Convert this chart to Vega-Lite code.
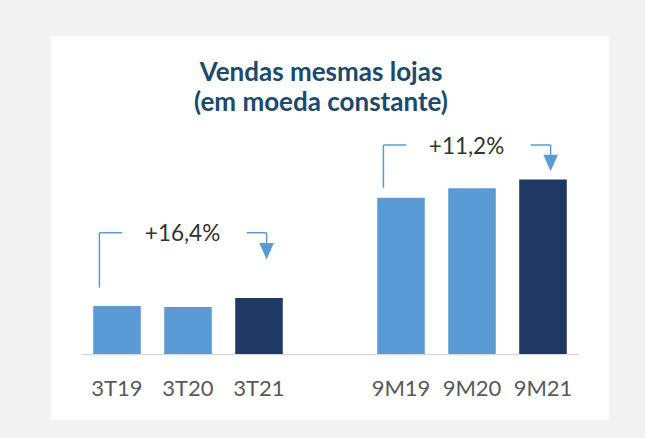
{
  "$schema": "https://vega.github.io/schema/vega-lite/v6.json",
  "width": 558,
  "height": 384,
  "autosize": {"type": "none"},
  "padding": {"left": 51, "top": 36, "right": 36, "bottom": 18},
  "background": "#f2f2f2",
  "config": {"view": {"fill": "white", "stroke": null}},
  "title": {
    "text": ["Vendas mesmas lojas", "(em moeda constante)"],
    "font": "Lato",
    "fontSize": 26,
    "fontWeight": "bold",
    "color": "#1B4A6E",
    "lineHeight": 30,
    "anchor": "middle",
    "baseline": "top",
    "dx": -9,
    "offset": -80
  },
  "datasets": {
    "vendas": [
      {"periodo": "3T19", "valor": 48, "ano": "2019"},
      {"periodo": "3T20", "valor": 47, "ano": "2020"},
      {"periodo": "3T21", "valor": 56, "ano": "2021"},
      {"periodo": "9M19", "valor": 156.3, "ano": "2019"},
      {"periodo": "9M20", "valor": 165.7, "ano": "2020"},
      {"periodo": "9M21", "valor": 174.5, "ano": "2021"}
    ],
    "notas": [
      {"de": "3T19", "meio": "3T20", "para": "3T21", "rotulo": "+16,4%", "nivel": 121.3, "inicio": 66.3, "seta": 102.7},
      {"de": "9M19", "meio": "9M20", "para": "9M21", "rotulo": "+11,2%", "nivel": 209, "inicio": 166.3, "seta": 191}
    ]
  },
  "layer": [
    {
      "data": {"name": "vendas"},
      "mark": {"type": "bar"},
      "encoding": {
        "x": {
          "field": "periodo",
          "type": "nominal",
          "sort": null,
          "scale": {
            "domain": ["3T19", "3T20", "3T21", " ", "9M19", "9M20", "9M21"],
            "range": [30.5, 527.5],
            "paddingInner": 0.33,
            "paddingOuter": 0.165
          },
          "axis": {
            "title": null,
            "labelAngle": 0,
            "labelFont": "Lato",
            "labelFontSize": 22,
            "labelColor": "#595959",
            "labelPadding": 24,
            "ticks": false,
            "grid": false,
            "domainColor": "#d9d9d9",
            "domainWidth": 1.5,
            "offset": -66
          }
        },
        "y": {
          "field": "valor",
          "type": "quantitative",
          "scale": {"domain": [-66, 318], "nice": false},
          "axis": null
        },
        "y2": {"datum": 0},
        "color": {
          "field": "ano",
          "type": "nominal",
          "scale": {"domain": ["2019", "2020", "2021"], "range": ["#5B9BD5", "#5B9BD5", "#1F3864"]},
          "legend": null
        }
      }
    },
    {
      "data": {"name": "notas"},
      "mark": {"type": "rule", "color": "#5B9BD5", "strokeWidth": 1.5},
      "encoding": {
        "x": {"field": "de", "type": "nominal", "bandPosition": 0.13, "axis": {"title": null}},
        "y": {"field": "nivel", "type": "quantitative", "axis": null},
        "y2": {"field": "inicio"}
      }
    },
    {
      "data": {"name": "notas"},
      "mark": {"type": "rule", "color": "#5B9BD5", "strokeWidth": 1.5},
      "encoding": {
        "x": {"field": "de", "type": "nominal", "bandPosition": 0.13, "axis": {"title": null}},
        "x2": {"field": "de", "bandPosition": 0.61},
        "y": {"field": "nivel", "type": "quantitative", "axis": null}
      }
    },
    {
      "data": {"name": "notas"},
      "mark": {"type": "rule", "color": "#5B9BD5", "strokeWidth": 1.5},
      "encoding": {
        "x": {"field": "para", "type": "nominal", "bandPosition": 0.24, "axis": {"title": null}},
        "x2": {"field": "para", "bandPosition": 0.66},
        "y": {"field": "nivel", "type": "quantitative", "axis": null}
      }
    },
    {
      "data": {"name": "notas"},
      "mark": {"type": "rule", "color": "#5B9BD5", "strokeWidth": 1.5},
      "encoding": {
        "x": {"field": "para", "type": "nominal", "bandPosition": 0.66, "axis": {"title": null}},
        "y": {"field": "nivel", "type": "quantitative", "axis": null},
        "y2": {"field": "seta"}
      }
    },
    {
      "data": {"name": "notas"},
      "mark": {"type": "point", "shape": "M-0.88,-1L0.88,-1L0,1Z", "size": 272, "filled": true, "color": "#5B9BD5", "opacity": 1},
      "encoding": {
        "x": {"field": "para", "type": "nominal", "bandPosition": 0.66, "axis": {"title": null}},
        "y": {"field": "seta", "type": "quantitative", "axis": null}
      }
    },
    {
      "data": {"name": "notas"},
      "mark": {"type": "text", "font": "Lato", "fontSize": 22.5, "color": "#333333", "baseline": "alphabetic", "align": "center", "dy": 8.5},
      "encoding": {
        "x": {"field": "meio", "type": "nominal", "bandPosition": 0.385, "axis": {"title": null}},
        "y": {"field": "nivel", "type": "quantitative", "axis": null},
        "text": {"field": "rotulo"}
      }
    }
  ]
}
